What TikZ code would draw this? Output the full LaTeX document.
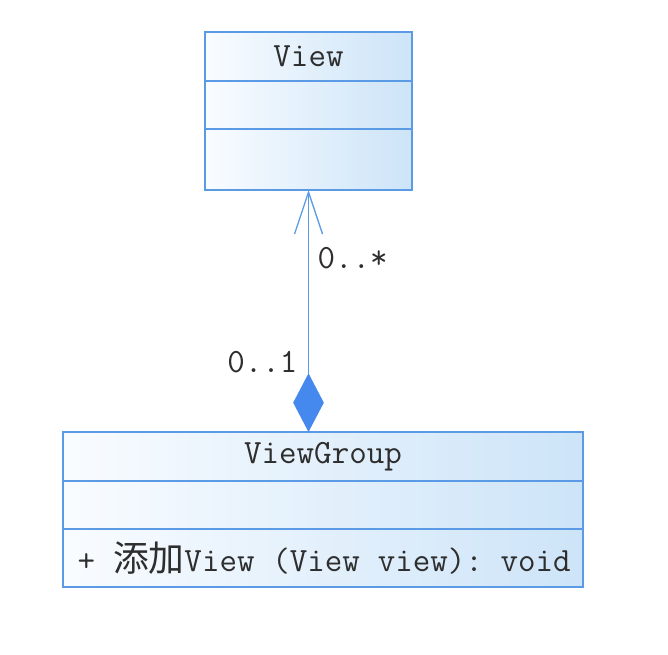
\documentclass[tikz,border=0pt]{standalone}
\usepackage{fontspec}
\newfontfamily\cjk{Noto Sans CJK SC}
\usepackage{tikz}
\usetikzlibrary{arrows.meta, positioning, shapes}
\definecolor{umlline}{HTML}{5B9BE6}
\definecolor{umlpale}{HTML}{F9FCFF}
\definecolor{umlfill}{HTML}{CDE4F8}
\definecolor{umldiamond}{HTML}{4689EE}
\definecolor{umltext}{HTML}{2E2E2E}
\newcommand{\umlfont}{\ttfamily\fontsize{25.5}{30}\selectfont}
\newcommand{\umlsp}{\hspace*{13.39pt}}
\newcommand{\umlcjk}[1]{{\cjk\fontsize{26.8}{30}\selectfont #1}}
\tikzset{
  umlpart/.style={draw=umlline, line width=1pt, left color=umlpale,
    right color=umlfill, outer sep=0pt, inner sep=0pt, font=\umlfont,
    text=umltext},
  umllabel/.style={font=\umlfont, text=umltext, inner sep=1pt},
  composition/.style={draw=umlline, line width=1.2pt,
    {Diamond[length=44pt, width=23pt, color=umldiamond, fill=umldiamond]}-{Straight Barb[length=31.5pt, width=21pt, line width=1pt]}}
}

\begin{document}
\begin{tikzpicture}[x=0.75pt, y=-0.75pt]
        \useasboundingbox (0,0) rectangle (668,654);
        % Class View
        \node[umlpart, minimum width=155.25pt, minimum height=36.75pt]
          (viewName) at (308.5,56.5) {View};
        \node[umlpart, minimum width=155.25pt, minimum height=36pt,
          below=0pt of viewName] (viewAttr) {};
        \node[umlpart, minimum width=155.25pt, minimum height=45.75pt,
          below=0pt of viewAttr] (viewOps) {};
        % Class ViewGroup
        \node[umlpart, minimum width=390pt, minimum height=36.75pt]
          (groupName) at (323,456.5) {ViewGroup};
        \node[umlpart, minimum width=390pt, minimum height=36pt,
          below=0pt of groupName] (groupAttr) {};
        \node[umlpart, minimum width=390pt, minimum height=43.5pt,
          text width=368pt, inner xsep=11pt, align=left,
          below=0pt of groupAttr] (groupOps)
          {+\umlsp\umlcjk{添加}View\umlsp(View\umlsp view):\umlsp void};
        % Composition ViewGroup <>-> View
        \draw[composition] (viewOps.south |- groupName.north)
          -- (viewOps.south);
        % Multiplicities
        \node[umllabel, anchor=west] (manyMult) at (316,258) {0..*};
        \node[umllabel, anchor=east] (oneMult) at (299,362) {0..1};
      \end{tikzpicture}
\end{document}
